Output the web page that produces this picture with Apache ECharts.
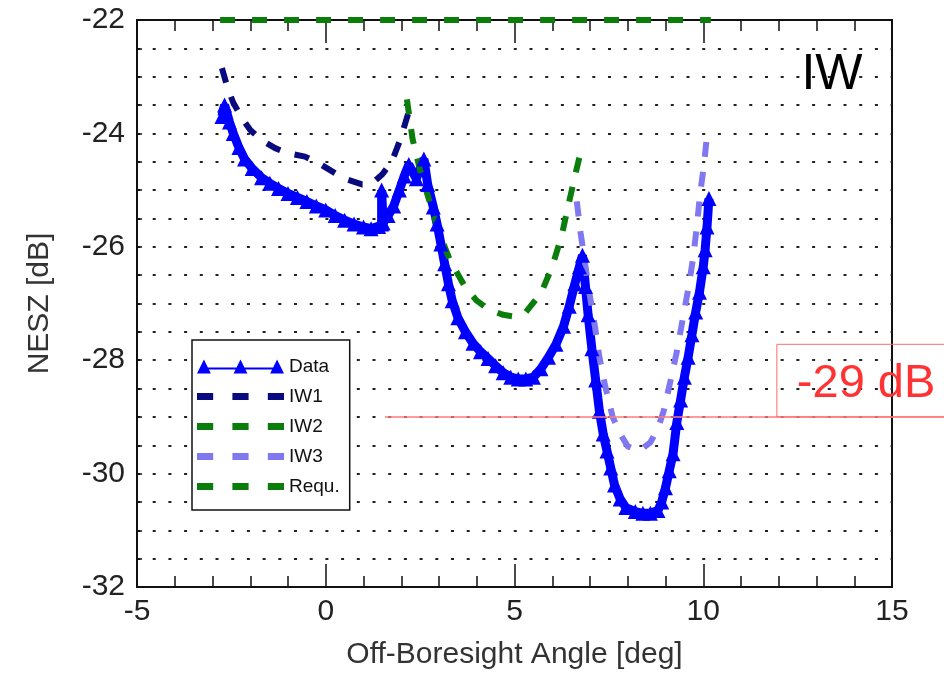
<!DOCTYPE html>
<html>
<head>
<meta charset="utf-8">
<script src="https://cdn.jsdelivr.net/npm/echarts@6/dist/echarts.min.js"></script>
<style>
  html, body { margin: 0; padding: 0; background: #fff; }
  #chart { width: 944px; height: 675px; }
</style>
</head>
<body>
<div id="chart"></div>
<script>
// measured values (angle in deg, NESZ in dB)
const dataX = [-2.75, -2.68, -2.55, -2.45, -2.3, -2.15, -1.95, -1.7, -1.48, -1.25, -1.0, -0.75, -0.5, -0.25, 0.0, 0.25, 0.5, 0.75, 1.0, 1.2, 1.4, 1.48, 1.48, 1.52,
  1.65, 1.8, 1.95, 2.08, 2.2, 2.4, 2.6, 2.7, 2.85, 2.95, 3.05, 3.15, 3.25, 3.35, 3.5, 3.7, 3.9, 4.1, 4.3, 4.5, 4.7, 4.9, 5.1, 5.3, 5.5, 5.7, 5.9, 6.1, 6.3, 6.45, 6.6, 6.72, 6.8,
  6.88, 6.95, 7.05, 7.15, 7.25, 7.35, 7.45, 7.55, 7.65, 7.8, 7.95, 8.2, 8.4, 8.6, 8.8, 8.9, 9.0, 9.1, 9.2, 9.3, 9.4, 9.5, 9.6, 9.7, 9.8, 9.9, 10.0, 10.05, 10.1, 10.15];
const dataY = [-23.7, -23.5, -23.8, -24.0, -24.25, -24.45, -24.62, -24.78, -24.88, -24.97, -25.06, -25.13, -25.2, -25.28, -25.35, -25.45, -25.53, -25.6, -25.65, -25.68, -25.64, -25.6, -25.0, -25.58,
  -25.45, -25.28, -25.0, -24.75, -24.55, -24.8, -24.45, -24.9, -25.3, -25.6, -25.95, -26.3, -26.65, -26.95, -27.25, -27.5, -27.7, -27.85, -27.97, -28.1, -28.22, -28.3, -28.33, -28.33, -28.3, -28.15, -27.95, -27.72, -27.4, -27.05, -26.65, -26.35, -26.15,
  -26.7, -27.2, -27.8, -28.35, -28.9, -29.3, -29.6, -29.9, -30.2, -30.45, -30.6, -30.67, -30.7, -30.7, -30.65, -30.5, -30.25, -29.95, -29.65, -29.1, -28.7, -28.3, -27.95, -27.55, -27.15, -26.8, -26.35, -26.05, -25.65, -25.15];

const iw1X = [-2.75, -2.6, -2.45, -2.2, -2.0, -1.7, -1.34, -1.0, -0.55, -0.2, 0.17, 0.5, 0.96, 1.2, 1.5, 1.75, 1.98, 2.25];
const iw1Y = [-22.85, -23.2, -23.46, -23.75, -23.94, -24.12, -24.26, -24.35, -24.41, -24.52, -24.67, -24.8, -24.9, -24.9, -24.72, -24.5, -24.1, -23.5];

const iw2X = [2.15, 2.3, 2.5, 2.75, 3.0, 3.3, 3.7, 4.0, 4.3, 4.7, 5.0, 5.3, 5.7, 6.0, 6.25, 6.45, 6.62, 6.78];
const iw2Y = [-23.4, -24.1, -24.65, -25.2, -25.75, -26.25, -26.72, -26.95, -27.1, -27.2, -27.23, -27.15, -26.82, -26.35, -25.8, -25.2, -24.7, -24.25];

const iw3X = [6.65, 6.75, 6.87, 6.98, 7.13, 7.25, 7.4, 7.6, 7.8, 8.0, 8.3, 8.6, 8.8, 8.95, 9.12, 9.3, 9.45, 9.6, 9.72, 9.82, 9.92, 10.02, 10.12];
const iw3Y = [-25.2, -25.75, -26.3, -26.8, -27.4, -27.95, -28.45, -29.0, -29.3, -29.52, -29.6, -29.45, -29.2, -28.9, -28.4, -27.85, -27.3, -26.75, -26.25, -25.7, -25.05, -24.55, -23.9];

const requX = [-2.8, 10.2];
const requY = [-22, -22];

const limitDb = -29;
const xTicks = [-5, 0, 5, 10, 15];
const yTicks = [-32, -30, -28, -26, -24, -22];

const pairs = (xs, ys) => xs.map((x, i) => [x, ys[i]]);

const font = 'Liberation Sans, Arial, sans-serif';
const dotted = { color: '#222', width: 1.8, type: [3, 12.7] };

// legend pictures like the original: three triangles on a line, three dashes
const dataIcon = 'path://M0,14L7,0L14,14Z M37,14L44,0L51,14Z M74,14L81,0L88,14Z M7,8H81V10H7Z';
const dashIcon = 'path://M0,0H16V7H0Z M35,0H51V7H35Z M70,0H86V7H70Z';

const chart = echarts.init(document.getElementById('chart'));

const xAxisBase = {
  type: 'value',
  min: xTicks[0],
  max: xTicks[xTicks.length - 1],
  interval: 5,
  axisLine: { show: true, onZero: false, lineStyle: { color: '#111', width: 2 } },
  axisTick: { show: true, inside: true, length: 23, lineStyle: { color: '#111', width: 1.5 } },
  minorTick: { show: true, splitNumber: 5, length: 11, lineStyle: { color: '#111', width: 1.5 } },
  splitLine: { show: false },
};

const option = {
  animation: false,
  backgroundColor: '#fff',
  grid: { left: 137, right: 52, top: 20, bottom: 87, show: true, borderColor: '#111', borderWidth: 2, backgroundColor: 'transparent' },
  legend: {
    orient: 'vertical',
    left: 192,
    top: 340,
    padding: [17, 10, 14, 5],
    itemWidth: 87,
    itemHeight: 14,
    itemGap: 11,
    symbolKeepAspect: true,
    backgroundColor: '#fff',
    borderColor: '#111',
    borderWidth: 1.5,
    textStyle: { fontSize: 19, color: '#111', fontFamily: font, padding: [0, 0, 0, 0] },
    data: [
      { name: 'Data', icon: dataIcon },
      { name: 'IW1', icon: dashIcon },
      { name: 'IW2', icon: dashIcon },
      { name: 'IW3', icon: dashIcon },
      { name: 'Requ.', icon: dashIcon },
    ],
  },
  xAxis: [
    Object.assign({}, xAxisBase, {
      position: 'bottom',
      name: 'Off-Boresight Angle [deg]',
      nameLocation: 'middle',
      nameGap: 53,
      nameTextStyle: { fontSize: 30, color: '#333', fontFamily: font },
      axisLabel: { show: true, fontSize: 30, color: '#222', fontFamily: font, margin: 10 },
    }),
    Object.assign({}, xAxisBase, {
      position: 'top',
      axisLabel: { show: false },
    }),
  ],
  yAxis: {
    type: 'value',
    min: yTicks[0],
    max: yTicks[yTicks.length - 1],
    interval: 2,
    name: 'NESZ [dB]',
    nameLocation: 'middle',
    nameGap: 82,
    nameTextStyle: { fontSize: 30, color: '#333', fontFamily: font },
    axisLine: { show: true, onZero: false, lineStyle: { color: '#111', width: 2 } },
    axisTick: { show: true, inside: true, length: 5, lineStyle: { color: '#111', width: 1.5 } },
    minorTick: { show: true, splitNumber: 4, length: 5, lineStyle: { color: '#111', width: 1.5 } },
    axisLabel: { fontSize: 30, color: '#222', fontFamily: font, margin: 12 },
    splitLine: { show: true, lineStyle: dotted },
    minorSplitLine: { show: true, lineStyle: dotted },
  },
  series: [
    {
      name: 'Data',
      type: 'line',
      data: pairs(dataX, dataY),
      symbol: 'triangle',
      symbolSize: 15,
      showAllSymbol: true,
      color: '#0000ff',
      itemStyle: { color: '#0000ff' },
      lineStyle: { color: '#0000ff', width: 9 },
    },
    {
      name: 'IW1',
      type: 'line',
      data: pairs(iw1X, iw1Y),
      showSymbol: false,
      symbol: 'none',
      color: '#0a0a80',
      lineStyle: { color: '#0a0a80', width: 6, type: [15, 15], cap: 'butt' },
    },
    {
      name: 'IW2',
      type: 'line',
      data: pairs(iw2X, iw2Y),
      showSymbol: false,
      symbol: 'none',
      color: '#0a7d0a',
      lineStyle: { color: '#0a7d0a', width: 6, type: [15, 15], cap: 'butt' },
    },
    {
      name: 'IW3',
      type: 'line',
      data: pairs(iw3X, iw3Y),
      showSymbol: false,
      symbol: 'none',
      color: '#8078f0',
      lineStyle: { color: '#8078f0', width: 6, type: [15, 15], cap: 'butt' },
    },
    {
      name: 'Requ.',
      type: 'line',
      data: pairs(requX, requY),
      showSymbol: false,
      symbol: 'none',
      color: '#0a7d0a',
      lineStyle: { color: '#0a7d0a', width: 6, type: [15, 17], cap: 'butt' },
    },
  ],
};

chart.setOption(option);

// annotations placed through the axes
const lineStart = chart.convertToPixel({ gridIndex: 0 }, [1.57, limitDb]);
const boxCorner = chart.convertToPixel({ gridIndex: 0 }, [11.95, -27.72]);
const iwPos = chart.convertToPixel({ gridIndex: 0 }, [12.6, -22.97]);

chart.setOption({
  graphic: [
    {
      type: 'line',
      shape: { x1: lineStart[0], y1: lineStart[1], x2: 944, y2: lineStart[1] },
      style: { stroke: '#ff7a7a', lineWidth: 1.5 },
      z: 100,
    },
    {
      type: 'rect',
      shape: { x: boxCorner[0], y: boxCorner[1], width: 944 - boxCorner[0] + 5, height: lineStart[1] - boxCorner[1] },
      style: { fill: 'rgba(255,255,255,0)', stroke: '#ff6b6b', lineWidth: 1 },
      z: 100,
    },
    {
      type: 'text',
      x: boxCorner[0] + 20,
      y: (boxCorner[1] + lineStart[1]) / 2 + 3,
      style: { text: '-29 dB', fill: '#ff3333', font: '47px ' + font, verticalAlign: 'middle' },
      z: 101,
    },
    {
      type: 'text',
      x: iwPos[0],
      y: iwPos[1],
      style: { text: 'IW', fill: '#000', font: '50px ' + font, verticalAlign: 'middle' },
      z: 101,
    },
  ],
});
</script>
</body>
</html>
